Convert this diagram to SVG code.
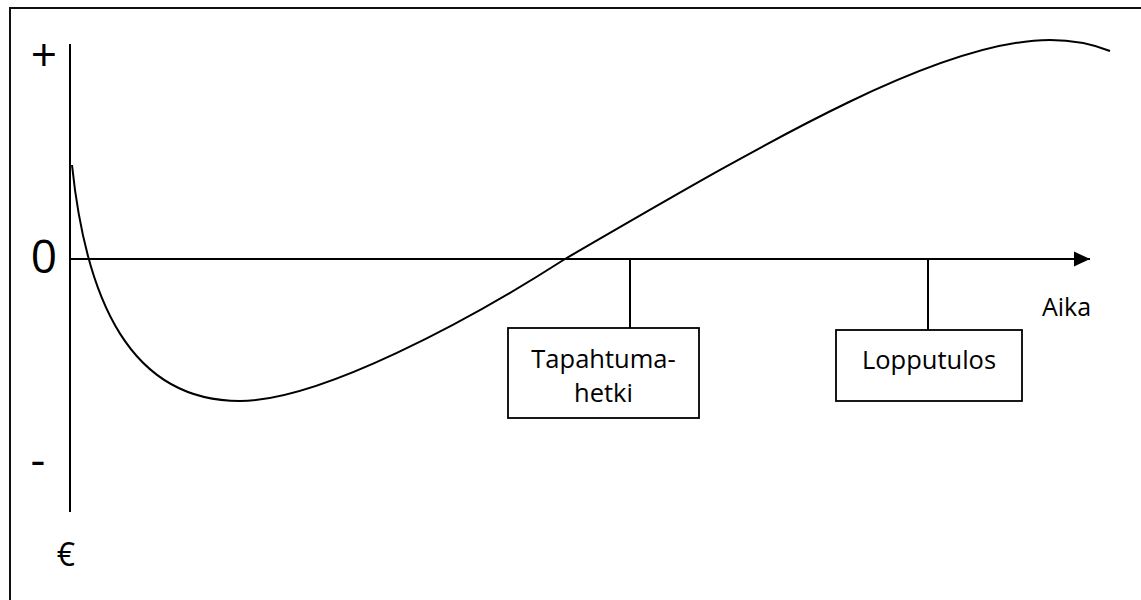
<svg xmlns="http://www.w3.org/2000/svg" width="1141" height="600" viewBox="0 0 1141 600">
<style>
.ln{stroke:#000;stroke-width:2;fill:none}
.box{stroke:#000;stroke-width:1.8;fill:#fff}
.t{font-family:"Open Sans","Liberation Sans",sans-serif;fill:#000}
</style>
<defs>
<marker id="arr" markerUnits="userSpaceOnUse" markerWidth="18" markerHeight="16" refX="16" refY="8" orient="auto">
<path d="M0,0.5 L16,8 L0,15.5 Z" fill="#000"/>
</marker>
</defs>
<rect x="0" y="0" width="1141" height="600" fill="#fff"/>
<rect id="frame" x="10" y="8" width="1140" height="600" fill="none" stroke="#111" stroke-width="2"/>
<g id="axes">
<line class="ln" x1="70" y1="44" x2="70" y2="512"/>
<line class="ln" x1="70" y1="259" x2="1090" y2="259" marker-end="url(#arr)"/>
<text class="t" x="44" y="71" font-size="46" text-anchor="middle">+</text>
<text class="t" x="44" y="273" font-size="46" text-anchor="middle">0</text>
<text class="t" x="38" y="476" font-size="46" text-anchor="middle">-</text>
<text class="t" x="66" y="566" font-size="32" text-anchor="middle">€</text>
<text class="t" x="1042" y="316" font-size="25">Aika</text>
</g>
<g id="curve">
<path class="ln" d="M72,165 C86,300 130,401 240,401 C320,401 470,320 565,259 C770,140 940,40 1050,40 C1075,40 1095,45 1110,51"/>
</g>
<g id="connectors">
<line class="ln" x1="630" y1="259" x2="630" y2="328"/>
<line class="ln" x1="928" y1="259" x2="928" y2="330"/>
</g>
<g id="tapahtumahetki">
<rect class="box" x="508" y="328" width="191" height="90"/>
<text class="t" x="603.5" y="368" font-size="25.5" text-anchor="middle">Tapahtuma-</text>
<text class="t" x="603.5" y="402" font-size="25.5" text-anchor="middle">hetki</text>
</g>
<g id="lopputulos">
<rect class="box" x="836" y="330" width="186" height="71"/>
<text class="t" x="929" y="369" font-size="25.5" text-anchor="middle">Lopputulos</text>
</g>
</svg>
